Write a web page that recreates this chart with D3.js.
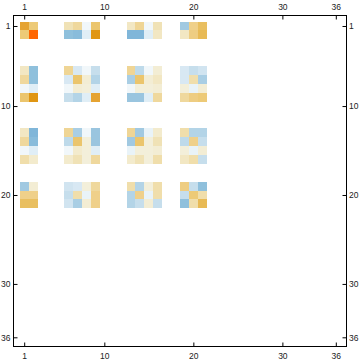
<!DOCTYPE html>
<html><head><meta charset="utf-8">
<script src="https://cdn.jsdelivr.net/npm/d3@7"></script>
<style>body{margin:0;background:#fff}svg{display:block}</style>
</head><body>
<script>
// Matrix indices that carry values (1-based), all others are zero
const rowIndex = [1,2,6,7,8,9,13,14,15,16,19,20,21];
const colIndex = [1,2,6,7,8,9,13,14,15,16,19,20,21];
// values[r][c] for rowIndex[r], colIndex[c]
const values = [
 [0.75,0.44, 0.19,0.28,-0.03,0.48, 0.14,0.31,-0.03,0.19, -0.43,0.35,0.53],
 [0.44,1.00, -0.53,-0.56,-0.11,0.85, -0.60,-0.60,-0.11,0.14, 0.14,0.39,0.58],
 [0.14,-0.53, 0.31,-0.16,-0.03,-0.25, 0.31,-0.29,-0.03,0.06, -0.16,-0.25,-0.20],
 [0.28,-0.53, -0.16,0.48,0.06,-0.34, -0.39,0.48,0.06,0.14, -0.16,0.23,-0.39],
 [-0.03,-0.11, -0.03,0.06,0.03,-0.11, -0.03,0.03,0.03,0.06, 0.03,-0.07,0.06],
 [0.48,0.85, -0.25,-0.34,-0.11,0.75, -0.47,-0.47,-0.11,0.28, 0.28,0.39,0.44],
 [0.14,-0.60, 0.31,-0.39,-0.03,-0.47, 0.31,-0.43,-0.07,0.10, 0.23,-0.34,-0.34],
 [0.28,-0.56, -0.29,0.48,0.03,-0.47, -0.43,0.48,0.03,0.19, -0.29,0.35,-0.25],
 [-0.03,-0.11, -0.03,0.10,0.03,-0.11, -0.07,0.03,0.03,0.06, 0.03,-0.07,0.06],
 [0.23,0.10, 0.10,0.19,0.03,0.28, 0.10,0.19,0.03,0.23, 0.14,0.23,-0.25],
 [-0.43,0.06, -0.20,-0.16,0.03,0.28, 0.23,-0.34,0.03,0.23, 0.39,-0.25,-0.53],
 [0.35,0.35, -0.25,0.23,-0.07,0.35, -0.34,0.35,-0.07,0.23, -0.25,0.44,0.23],
 [0.53,0.53, -0.20,-0.39,0.06,0.35, -0.34,-0.25,0.06,-0.25, -0.53,0.23,0.58]
];
const n = 36;
const tickValues = [1,10,20,30,36];

const W = 360, H = 363;
const frame = {left:13.5, right:346.5, top:15.5, bottom:346.5};

const svg = d3.select("body").append("svg").attr("width",W).attr("height",H);

const x = d3.scaleLinear().domain([0.5, n+0.5]).range([19.75, 340.25]);
const y = d3.scaleLinear().domain([0.5, n+0.5]).range([21.55, 341.75]);

const color = d3.scaleLinear()
  .domain([-0.6,-0.53,-0.43,-0.34,-0.25,-0.2,-0.11,-0.03,0,0.03,0.1,0.19,0.28,0.35,0.44,0.53,0.58,0.75,0.85,1.0])
  .range(["#80B6D9","#8FC0DC","#A1C9E1","#B3D4E7","#C6DEEC","#D1E4F0","#E0EEF6","#F1F7FA","#F4F4EC",
          "#F3EFDA","#F3EBCD","#F0E2B6","#EFD89D","#EFD08A","#EDCA77","#E9BF60","#E8BA55","#E5A332","#E09613","#FF6600"])
  .interpolate(d3.interpolateRgb).clamp(true);

const cells = [];
values.forEach((row,ri)=>row.forEach((v,ci)=>{
  if (v !== 0) cells.push({r:rowIndex[ri], c:colIndex[ci], v});
}));

svg.append("g").attr("shape-rendering","crispEdges")
  .selectAll("rect").data(cells).join("rect")
  .attr("x", d=>x(d.c-0.5))
  .attr("y", d=>y(d.r-0.5))
  .attr("width", d=>x(d.c+0.5)-x(d.c-0.5))
  .attr("height", d=>y(d.r+0.5)-y(d.r-0.5))
  .attr("fill", d=>color(d.v));

// frame
svg.append("rect")
  .attr("x",frame.left).attr("y",frame.top)
  .attr("width",frame.right-frame.left).attr("height",frame.bottom-frame.top)
  .attr("fill","none").attr("stroke","#000").attr("stroke-width",1);

function style(g){
  g.select(".domain").remove();
  g.selectAll(".tick line").attr("stroke","#000");
  g.selectAll(".tick text").attr("fill","#222")
    .style("font-family","'Liberation Sans', Arial, sans-serif").style("font-size","8.5px");
}
svg.append("g").attr("transform",`translate(0,${frame.top})`)
  .call(d3.axisTop(x).tickValues(tickValues).tickSize(-4).tickPadding(5.5)).call(style);
svg.append("g").attr("transform",`translate(0,${frame.bottom})`)
  .call(d3.axisBottom(x).tickValues(tickValues).tickSize(-4).tickPadding(6)).call(style);
svg.append("g").attr("transform",`translate(${frame.left},0)`)
  .call(d3.axisLeft(y).tickValues(tickValues).tickSize(-4).tickPadding(3)).call(style);
svg.append("g").attr("transform",`translate(${frame.right},0)`)
  .call(d3.axisRight(y).tickValues(tickValues).tickSize(-4).tickPadding(2.5)).call(style);
svg.selectAll(".tick text").attr("font-family",null);
svg.selectAll("g").attr("font-size",null).attr("font-family",null);
</script>
</body></html>
